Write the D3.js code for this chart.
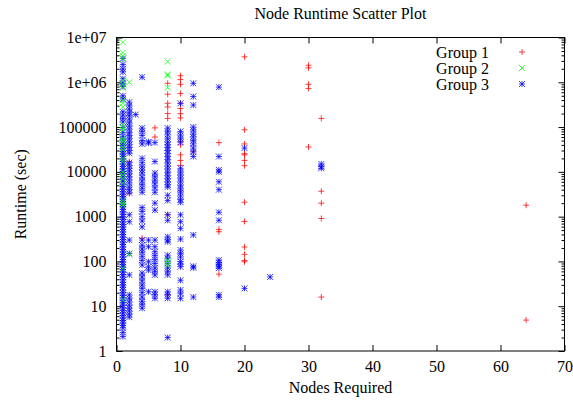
<!DOCTYPE html>
<html>
<head>
<meta charset="utf-8">
<script src="https://cdn.jsdelivr.net/npm/d3@7"></script>
<style>
body { margin: 0; background: #fff; }
text { font-family: "Liberation Serif", "DejaVu Serif", serif; font-size: 16px; fill: #000; }
</style>
</head>
<body>
<div id="chart"></div>
<script>
// group 1 (red +)
var group1 = [
    [2, 17000], [2, 3300], [4, 330], [6, 96000], [6, 60000],
    [8, 950000], [8, 540000], [8, 340000], [8, 280000], [8, 200000], [8, 156000], [8, 1100], [8, 18],
    [10, 1400000], [10, 1150000], [10, 900000], [10, 560000], [10, 340000], [10, 260000], [10, 200000], [10, 160000],
    [10, 47000], [10, 40000], [10, 24000], [10, 18000], [10, 14000], [10, 3800],
    [12, 28000], [16, 45000], [16, 460], [16, 520], [16, 52],
    [20, 3700000], [20, 87000], [20, 42000], [20, 24000], [20, 25500], [20, 18000], [20, 13700],
    [20, 2100], [20, 780], [20, 210], [20, 144], [20, 98], [20, 105],
    [30, 2400000], [30, 2100000], [30, 900000], [30, 730000], [30, 36000],
    [32, 156000], [32, 3700], [32, 2000], [32, 910], [32, 16],
    [64, 1800], [64, 4.9]
];

// group 2 (green x)
var group2 = [
    [1, 7800000], [1, 4600000], [1, 3900000], [1, 3300000], [1, 1100000], [1, 900000], [1, 750000],
    [1, 400000], [1, 340000], [1, 280000], [1, 110000], [1, 95000], [1, 85000],
    [1, 56000], [1, 50000], [1, 46000], [1, 36000], [1, 31000], [1, 20000], [1, 17000],
    [1, 10000], [1, 8500], [1, 7000], [1, 5500], [1, 2300], [1, 2000], [1, 1800], [1, 70], [1, 14],
    [2, 1000000], [2, 144],
    [8, 2900000], [8, 1500000], [8, 1400000], [8, 760000], [8, 107], [8, 95], [8, 83]
];

// group 3 (blue *)
var group3 = [
    [1, 3400000], [1, 2500000], [1, 2000000], [1, 1700000], [1, 1200000], [1, 950000], [1, 800000],
    [1, 500000], [1, 420000], [1, 220000], [1, 185000], [1, 155000], [1, 130000], [1, 98000], [1, 76000],
    [1, 62000], [1, 52000], [1, 44000], [1, 38000], [1, 33000], [1, 28500], [1, 25000], [1, 22000],
    [1, 19500], [1, 17000], [1, 15000], [1, 13200], [1, 11600], [1, 10300], [1, 9000], [1, 7900],
    [1, 6900], [1, 6100], [1, 5300], [1, 4700], [1, 4100], [1, 3600], [1, 3150], [1, 2800], [1, 2450],
    [1, 2150], [1, 1900], [1, 1650], [1, 1450], [1, 1280], [1, 1120], [1, 990], [1, 870], [1, 760],
    [1, 670], [1, 590], [1, 520], [1, 455], [1, 400], [1, 350], [1, 310], [1, 272], [1, 240], [1, 210],
    [1, 185], [1, 162], [1, 143], [1, 125], [1, 110], [1, 97], [1, 85], [1, 75], [1, 66], [1, 58],
    [1, 51], [1, 45], [1, 39], [1, 34], [1, 30], [1, 26.5], [1, 23], [1, 20], [1, 17.5], [1, 15.5],
    [1, 13.5], [1, 12], [1, 10.5], [1, 9.2], [1, 8.1], [1, 7.1], [1, 6.2], [1, 5.4], [1, 4.8], [1, 4.2],
    [1, 3.7], [1, 3.3], [1, 2.6], [1, 2.1],
    [2, 360000], [2, 300000], [2, 250000], [2, 210000], [2, 180000], [2, 150000], [2, 125000], [2, 105000],
    [2, 90000], [2, 75000], [2, 65000], [2, 55000], [2, 47000], [2, 40000], [2, 35000], [2, 30000], [2, 26000],
    [2, 16000], [2, 14000], [2, 12000], [2, 10500], [2, 9000], [2, 7800], [2, 6600], [2, 5600],
    [2, 4600], [2, 4000], [2, 3400], [2, 1100], [2, 770], [2, 300], [2, 150], [2, 50],
    [2, 18], [2, 15], [2, 12.5], [2, 10.5], [2, 9], [2, 7.8], [2, 6.6], [2, 5.7],
    [3, 190000],
    [4, 1300000], [4, 95000], [4, 80000], [4, 65000], [4, 50000], [4, 42000], [4, 20000], [4, 16000],
    [4, 13000], [4, 11000], [4, 9400], [4, 7600], [4, 6300], [4, 5200], [4, 4300], [4, 3500],
    [4, 1600], [4, 1300], [4, 1000], [4, 800], [4, 590], [4, 300], [4, 230], [4, 190], [4, 160],
    [4, 130], [4, 105], [4, 83], [4, 55], [4, 45], [4, 37], [4, 30], [4, 25], [4, 20], [4, 16],
    [4, 13], [4, 11], [4, 9],
    [5, 47000], [5, 44000], [5, 300], [5, 213], [5, 98], [5, 76], [5, 64], [5, 21],
    [6, 45000], [6, 17000], [6, 9400], [6, 7800], [6, 6500], [6, 5400], [6, 4400], [6, 3500],
    [6, 2000], [6, 1400], [6, 300], [6, 213], [6, 165], [6, 135], [6, 110], [6, 90], [6, 72],
    [6, 60], [6, 50], [6, 21], [6, 18], [6, 15],
    [8, 95000], [8, 80000], [8, 67000], [8, 55000], [8, 46000], [8, 40000], [8, 35000], [8, 30000],
    [8, 26000], [8, 22000], [8, 19000], [8, 16000], [8, 13500], [8, 11500], [8, 9700], [8, 8200],
    [8, 7000], [8, 6000], [8, 5100], [8, 4600], [8, 3000], [8, 2300], [8, 1100], [8, 830],
    [8, 355], [8, 300], [8, 275], [8, 138], [8, 115], [8, 90], [8, 72], [8, 60], [8, 50],
    [8, 21], [8, 18], [8, 15], [8, 2],
    [10, 340000], [10, 80000], [10, 66000], [10, 55000], [10, 46000], [10, 12000], [10, 10000],
    [10, 8500], [10, 7200], [10, 6000], [10, 5000], [10, 4200], [10, 3500], [10, 2900], [10, 2400],
    [10, 2100], [10, 1100], [10, 770], [10, 550], [10, 316], [10, 180], [10, 150], [10, 125],
    [10, 100], [10, 88], [10, 76], [10, 38], [10, 23], [10, 19], [10, 15],
    [12, 950000], [12, 480000], [12, 310000], [12, 100000], [12, 85000], [12, 70000], [12, 60000],
    [12, 50000], [12, 42000], [12, 34000], [12, 28000], [12, 22000], [12, 390], [12, 78], [12, 72], [12, 16],
    [16, 780000], [16, 22000], [16, 11000], [16, 10000], [16, 6000], [16, 4000], [16, 1250], [16, 830],
    [16, 107], [16, 95], [16, 85], [16, 78], [16, 71], [16, 18], [16, 16],
    [20, 34000], [20, 25],
    [24, 45],
    [32, 15000], [32, 13000], [32, 12000]
];

var groupNames = ["Group 1", "Group 2", "Group 3"];
var xTicks = [0, 10, 20, 30, 40, 50, 60, 70];
var yTicks = [1, 10, 100, 1000, 10000, 100000, 1e6, 1e7];
var yTickLabels = ["1", "10", "100", "1000", "10000", "100000", "1e+06", "1e+07"];

var width = 573, height = 404;
var plotLeft = 116.5, plotRight = 564.5, plotTop = 37.5, plotBottom = 351;

var svg = d3.select("#chart")
    .append("svg")
    .attr("width", width)
    .attr("height", height);

var xScale = d3.scaleLinear().domain([0, 70]).range([plotLeft, plotRight]);
var yScale = d3.scaleLog().domain([1, 1e7]).range([plotBottom, plotTop]);

// minor ticks on the log axis
var minorTicks = yScale.ticks().filter(function (v) { return yTicks.indexOf(v) < 0; });

var xAxis = d3.axisBottom(xScale).tickValues(xTicks).tickSizeInner(-6).tickSizeOuter(0).tickPadding(10);
var xAxisTop = d3.axisTop(xScale).tickValues(xTicks).tickSizeInner(-6).tickSizeOuter(0).tickFormat("");
var yAxis = d3.axisLeft(yScale).tickValues(yTicks).tickSizeInner(-6).tickSizeOuter(0).tickPadding(10)
    .tickFormat(function (d, i) { return yTickLabels[i]; });
var yAxisRight = d3.axisRight(yScale).tickValues(yTicks).tickSizeInner(-6).tickSizeOuter(0).tickFormat("");
var yMinor = d3.axisLeft(yScale).tickValues(minorTicks).tickSizeInner(-3).tickSizeOuter(0).tickFormat("");
var yMinorRight = d3.axisRight(yScale).tickValues(minorTicks).tickSizeInner(-3).tickSizeOuter(0).tickFormat("");

function styleAxis(g) {
    g.select(".domain").remove();
    g.selectAll("line").attr("stroke", "#000").attr("stroke-width", 1);
    g.selectAll("text").attr("font-family", null).attr("font-size", null).attr("fill", "#000");
}

svg.append("g").attr("transform", "translate(0," + plotBottom + ")").call(xAxis).call(styleAxis);
svg.append("g").attr("transform", "translate(0," + plotTop + ")").call(xAxisTop).call(styleAxis);
svg.append("g").attr("transform", "translate(" + plotLeft + ",0)").call(yAxis).call(styleAxis);
svg.append("g").attr("transform", "translate(" + plotRight + ",0)").call(yAxisRight).call(styleAxis);
svg.append("g").attr("transform", "translate(" + plotLeft + ",0)").call(yMinor).call(styleAxis);
svg.append("g").attr("transform", "translate(" + plotRight + ",0)").call(yMinorRight).call(styleAxis);

svg.append("rect")
    .attr("x", plotLeft).attr("y", plotTop)
    .attr("width", plotRight - plotLeft).attr("height", plotBottom - plotTop)
    .attr("fill", "none").attr("stroke", "#000").attr("stroke-width", 1);

var s = 3;
var plusPath = "M" + (-s) + ",0H" + s + "M0," + (-s) + "V" + s;
var crossPath = "M" + (-s) + "," + (-s) + "L" + s + "," + s + "M" + (-s) + "," + s + "L" + s + "," + (-s);
var groups = [
    { data: group1, color: "#ff0000", path: plusPath },
    { data: group2, color: "#00ff00", path: crossPath },
    { data: group3, color: "#0000ff", path: plusPath + crossPath }
];

// green drawn last so it shows inside the blue column, as in the picture
[0, 2, 1].forEach(function (i) {
    var g = groups[i];
    svg.append("g").selectAll("path")
        .data(g.data).enter().append("path")
        .attr("d", g.path)
        .attr("fill", "none")
        .attr("stroke", g.color)
        .attr("stroke-width", 1)
        .attr("opacity", 0.75)
        .attr("transform", function (d) {
            return "translate(" + xScale(d[0]) + "," + yScale(d[1]) + ")";
        });
});

groups.forEach(function (g, i) {
    var ly = 52 + i * 16;
    svg.append("text")
        .attr("x", 489).attr("y", ly).attr("dy", "0.35em")
        .attr("text-anchor", "end")
        .text(groupNames[i]);
    svg.append("path")
        .attr("d", g.path)
        .attr("fill", "none")
        .attr("stroke", g.color)
        .attr("stroke-width", 1)
        .attr("opacity", 0.75)
        .attr("transform", "translate(522," + ly + ")");
});

svg.append("text")
    .attr("x", (plotLeft + plotRight) / 2).attr("y", 19)
    .attr("text-anchor", "middle")
    .text("Node Runtime Scatter Plot");
svg.append("text")
    .attr("x", (plotLeft + plotRight) / 2).attr("y", 393)
    .attr("text-anchor", "middle")
    .text("Nodes Required");
svg.append("g")
    .attr("transform", "translate(26," + (plotTop + plotBottom) / 2 + ")")
    .append("text")
    .attr("transform", "rotate(-90)")
    .attr("text-anchor", "middle")
    .text("Runtime (sec)");
</script>
</body>
</html>
